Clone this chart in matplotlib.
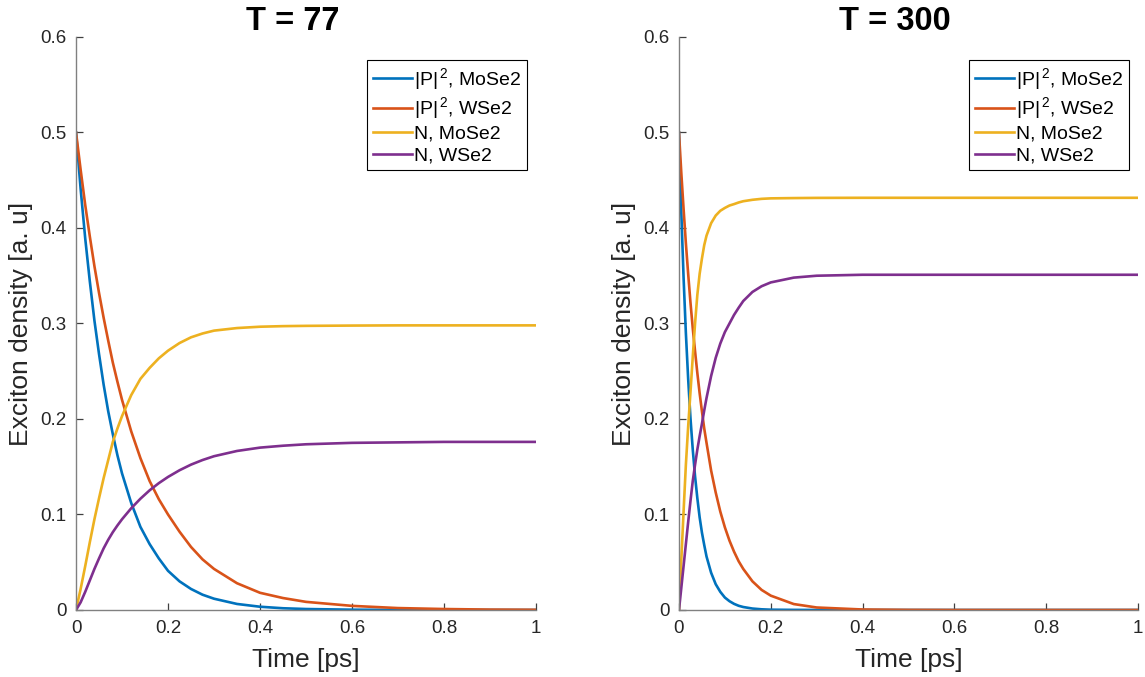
import matplotlib
matplotlib.use("Agg")
import matplotlib.pyplot as plt

plt.rcParams['font.family'] = ['Liberation Sans', 'DejaVu Sans']
plt.rcParams['mathtext.fontset'] = 'custom'
plt.rcParams['mathtext.rm'] = 'Liberation Sans'
plt.rcParams['mathtext.default'] = 'regular'

# T = 77 panel
t_77 = [0, 0.01, 0.02, 0.03, 0.04, 0.05, 0.06, 0.07, 0.08, 0.09, 0.10, 0.12, 0.14, 0.16, 0.18,
        0.20, 0.225, 0.25, 0.275, 0.30, 0.35, 0.40, 0.45, 0.50, 0.60, 0.70, 0.80, 0.90, 1.0]
p2_mose2_77 = [0.500, 0.441, 0.389, 0.344, 0.303, 0.268, 0.236, 0.208, 0.184, 0.162, 0.143, 0.112, 0.087, 0.069, 0.054,
               0.041, 0.030, 0.022, 0.016, 0.0118, 0.0063, 0.0034, 0.0018, 0.001, 0.0003, 0.0001, 0, 0, 0]
p2_wse2_77 = [0.500, 0.461, 0.424, 0.391, 0.360, 0.332, 0.306, 0.282, 0.259, 0.239, 0.220, 0.187, 0.159, 0.135, 0.116,
              0.100, 0.082, 0.066, 0.053, 0.043, 0.028, 0.018, 0.0125, 0.0085, 0.0043, 0.002, 0.001, 0.0004, 0.0002]
n_mose2_77 = [0, 0.022, 0.046, 0.071, 0.095, 0.117, 0.138, 0.157, 0.176, 0.190, 0.203, 0.225, 0.242, 0.2535, 0.2635,
              0.2715, 0.2795, 0.2855, 0.2895, 0.2925, 0.2952, 0.2966, 0.2972, 0.2975, 0.2978, 0.298, 0.298, 0.298, 0.298]
n_wse2_77 = [0, 0.008, 0.019, 0.031, 0.043, 0.054, 0.0645, 0.0735, 0.0815, 0.0885, 0.095, 0.1065, 0.1165, 0.1253, 0.1328,
             0.1393, 0.1463, 0.1522, 0.157, 0.161, 0.1665, 0.170, 0.172, 0.1735, 0.175, 0.1755, 0.176, 0.176, 0.176]

# T = 300 panel
t_300 = [0, 0.005, 0.01, 0.015, 0.02, 0.025, 0.03, 0.035, 0.04, 0.045, 0.05, 0.055, 0.06, 0.07, 0.08, 0.09,
         0.10, 0.11, 0.12, 0.13, 0.14, 0.16, 0.18, 0.20, 0.25, 0.30, 0.40, 0.50, 0.60, 0.80, 1.0]
p2_mose2_300 = [0.500, 0.417, 0.348, 0.290, 0.242, 0.201, 0.168, 0.140, 0.117, 0.097, 0.081, 0.068, 0.056, 0.039, 0.027, 0.019,
                0.013, 0.0092, 0.0064, 0.0044, 0.0031, 0.0015, 0.0007, 0.0003, 0.0001, 0, 0, 0, 0, 0, 0]
p2_wse2_300 = [0.500, 0.458, 0.420, 0.384, 0.352, 0.322, 0.295, 0.271, 0.248, 0.227, 0.208, 0.190, 0.175, 0.146, 0.123, 0.103,
               0.0865, 0.0726, 0.061, 0.051, 0.043, 0.030, 0.021, 0.015, 0.0062, 0.0026, 0.0005, 0.0001, 0, 0, 0]
n_mose2_300 = [0, 0.052, 0.103, 0.152, 0.192, 0.228, 0.265, 0.300, 0.330, 0.352, 0.368, 0.382, 0.392, 0.405, 0.413, 0.418,
               0.421, 0.4235, 0.425, 0.4267, 0.428, 0.4295, 0.4305, 0.431, 0.4313, 0.4315, 0.4316, 0.4316, 0.4316, 0.4316, 0.4316]
n_wse2_300 = [0, 0.023, 0.046, 0.069, 0.092, 0.114, 0.135, 0.152, 0.168, 0.182, 0.195, 0.209, 0.222, 0.245, 0.264, 0.279,
              0.291, 0.300, 0.309, 0.3165, 0.3235, 0.333, 0.339, 0.343, 0.348, 0.350, 0.351, 0.351, 0.351, 0.351, 0.351]

labels = [r'|P|$^{\,2}$, MoSe2', r'|P|$^{\,2}$, WSe2', 'N, MoSe2', 'N, WSe2']
colors = ['#0072BD', '#D95319', '#EDB120', '#7E2F8E']
titles = ['T = 77', 'T = 300']

panels = [
    (t_77, [p2_mose2_77, p2_wse2_77, n_mose2_77, n_wse2_77]),
    (t_300, [p2_mose2_300, p2_wse2_300, n_mose2_300, n_wse2_300]),
]

fig = plt.figure(figsize=(11.45, 6.77), dpi=100)
ax_l = fig.add_axes([0.0664, 0.099, 0.4017, 0.8464])
ax_r = fig.add_axes([0.5930, 0.099, 0.4009, 0.8464])

for ax, (t, series), title in zip([ax_l, ax_r], panels, titles):
    for y, c, lab in zip(series, colors, labels):
        ax.plot(t, y, color=c, lw=1.9, label=lab, solid_joinstyle='round')
    ax.set_xlim(0, 1)
    ax.set_ylim(0, 0.6)
    ax.set_xticks([0, 0.2, 0.4, 0.6, 0.8, 1])
    ax.set_xticklabels(['0', '0.2', '0.4', '0.6', '0.8', '1'])
    ax.set_yticks([0, 0.1, 0.2, 0.3, 0.4, 0.5, 0.6])
    ax.set_yticklabels(['0', '0.1', '0.2', '0.3', '0.4', '0.5', '0.6'])
    for s in ['top', 'right']:
        ax.spines[s].set_visible(False)
    for s in ['left', 'bottom']:
        ax.spines[s].set_color('#808080')
        ax.spines[s].set_linewidth(1.0)
    ax.tick_params(direction='in', length=5, width=0.9, color='#404040',
                   labelsize=13.5, labelcolor='#262626', pad=7)
    ax.set_xlabel('Time [ps]', fontsize=19, color='#262626', labelpad=8)
    ax.set_ylabel('Exciton density [a. u]', fontsize=19, color='#262626', labelpad=5)
    ax.set_title(title, fontsize=23.5, fontweight='bold', x=0.47, pad=0)
    leg = ax.legend(loc='upper right', bbox_to_anchor=(0.98, 0.96), fontsize=14,
                    frameon=True, fancybox=False, framealpha=1, edgecolor='black',
                    handlelength=2.0, handletextpad=0.1, labelspacing=0.2,
                    borderpad=0.3, borderaxespad=0)
    leg.get_frame().set_linewidth(0.8)

fig.savefig('out.png', dpi=100)
